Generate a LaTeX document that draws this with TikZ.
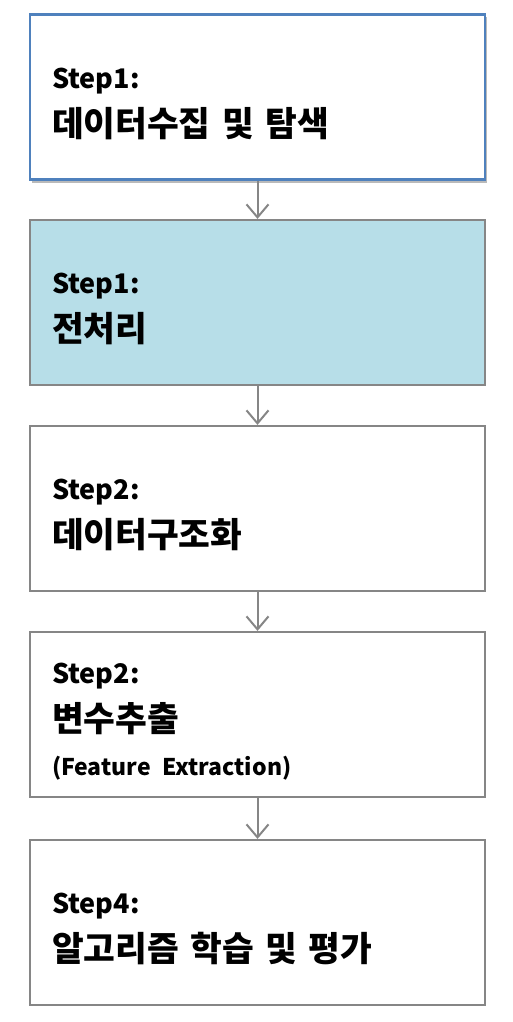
\documentclass[tikz,border=0pt]{standalone}
\usepackage{fontspec}
\setmainfont{Noto Sans CJK KR}[WordSpace=0.55]
\usepackage{xcolor}
\usepackage{tikz}
\usetikzlibrary{arrows.meta,shadows}

\definecolor{boxgray}{HTML}{868686}
\definecolor{stepblue}{HTML}{4F81BD}
\definecolor{stepfill}{HTML}{B7DEE8}

\tikzset{
  stepbox/.style={draw=boxgray, line width=2.2pt, fill=white, minimum width=455pt,
    minimum height=165pt, text width=411pt, inner xsep=22pt, align=left,
    font=\bfseries\fontsize{34.5}{48}\selectfont},
  flow/.style={draw=boxgray, line width=2pt, -{Straight Barb[length=13pt,width=22pt,line width=2pt]}},
}
\newcommand{\steplbl}[1]{{\fontsize{27}{48}\selectfont\rule{0pt}{34pt}#1}}

\begin{document}
\begin{tikzpicture}[x=1pt,y=-1pt]
  \useasboundingbox (0,0) rectangle (512,1022);

  % Etape 1 : collecte
  \node[stepbox, draw=stepblue, drop shadow={shadow xshift=2pt, shadow yshift=-3pt, fill=black!45, opacity=0.6}]
    (collect) at (257.5,97) {\steplbl{Step1:}\\데이터수집 및 탐색};

  % Pretraitement
  \node[stepbox, fill=stepfill] (prep) at (257.5,302.5) {\steplbl{Step1:}\\전처리};

  % Structuration
  \node[stepbox] (struct) at (257.5,508.5) {\steplbl{Step2:}\\데이터구조화};

  % Variables
  \node[stepbox] (feat) at (257.5,714.5)
    {\steplbl{Step2:}\\변수추출\\[-4pt]{\fontsize{23}{44}\selectfont (Feature Extraction)}};

  % Apprentissage
  \node[stepbox] (learn) at (257.5,922.5) {\steplbl{Step4:}\\알고리즘 학습 및 평가};

  % Fleches
  \foreach \a/\b in {collect/prep, prep/struct, struct/feat, feat/learn} {
    \draw[flow] (\a.south) -- (\b.north);
  }
\end{tikzpicture}
\end{document}
